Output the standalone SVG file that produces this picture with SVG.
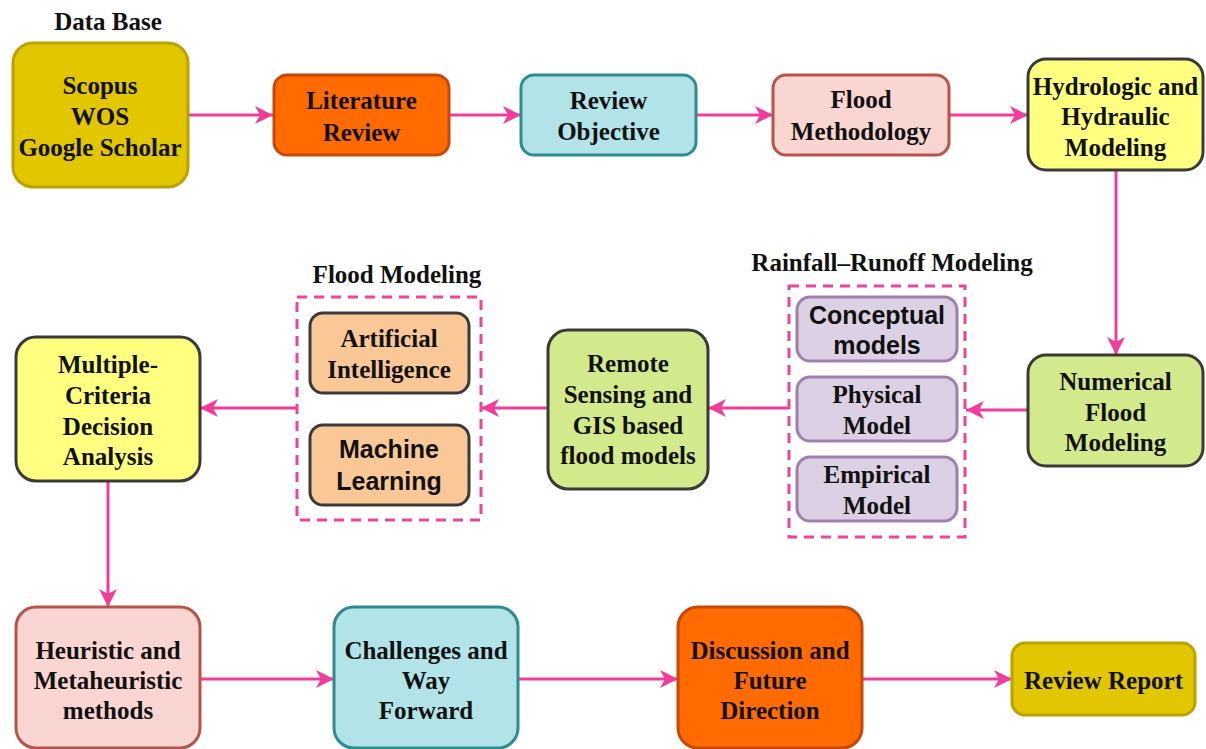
<svg xmlns="http://www.w3.org/2000/svg" width="1206" height="749" viewBox="0 0 1206 749">
<style>
.box{stroke-width:3}
.gold{fill:#E1C600;stroke:#BBA200}
.orange{fill:#FF6B00;stroke:#C6480A}
.cyan{fill:#B2E3E8;stroke:#2E8B8E}
.pink{fill:#F9D6D2;stroke:#B5544A}
.yellow{fill:#FFFF80;stroke:#3A3A3A}
.green{fill:#D3EA8C;stroke:#3A3A3A}
.lav{fill:#DCD0E4;stroke:#9E7FAE}
.peach{fill:#FAC896;stroke:#3A3A3A}
.dash{fill:none;stroke:#EB4595;stroke-width:3;stroke-dasharray:10,7}
text{font-family:"Liberation Serif","Times New Roman",serif;font-weight:bold;font-size:25px;fill:#111;text-anchor:middle}
text.sans{font-family:"Liberation Sans",Arial,sans-serif}
.conn{fill:none;stroke:#F03C9A;stroke-width:3}
</style>
<defs>
<marker id="arr" markerUnits="userSpaceOnUse" markerWidth="20" markerHeight="20" viewBox="0 0 20 20" refX="19" refY="10" orient="auto">
<path d="M1,1 L19,10 L1,19 L6,10 Z" fill="#F03C9A"/>
</marker>
</defs>

<g id="connectors">
<line class="conn" x1="188" y1="115" x2="273" y2="115" marker-end="url(#arr)"/>
<line class="conn" x1="450" y1="115" x2="521" y2="115" marker-end="url(#arr)"/>
<line class="conn" x1="697" y1="115" x2="773" y2="115" marker-end="url(#arr)"/>
<line class="conn" x1="950" y1="115" x2="1028" y2="115" marker-end="url(#arr)"/>
<line class="conn" x1="1116" y1="171" x2="1116" y2="355" marker-end="url(#arr)"/>
<line class="conn" x1="1028" y1="410" x2="966" y2="410" marker-end="url(#arr)"/>
<line class="conn" x1="789" y1="408" x2="708" y2="408" marker-end="url(#arr)"/>
<line class="conn" x1="548" y1="408" x2="481" y2="408" marker-end="url(#arr)"/>
<line class="conn" x1="297" y1="408" x2="200" y2="408" marker-end="url(#arr)"/>
<line class="conn" x1="108" y1="481" x2="108" y2="607" marker-end="url(#arr)"/>
<line class="conn" x1="200" y1="679" x2="334" y2="679" marker-end="url(#arr)"/>
<line class="conn" x1="518" y1="679" x2="678" y2="679" marker-end="url(#arr)"/>
<line class="conn" x1="862" y1="679" x2="1012" y2="679" marker-end="url(#arr)"/>
</g>

<g id="database">
<text x="108" y="30">Data Base</text>
<rect class="box gold" x="13" y="43" width="175" height="144" rx="20"/>
<text x="100" y="94">Scopus</text>
<text x="100" y="125">WOS</text>
<text x="100" y="156">Google Scholar</text>
</g>

<g id="literature-review">
<rect class="box orange" x="274" y="75" width="175" height="80" rx="13"/>
<text x="361.5" y="109">Literature</text>
<text x="361.5" y="141">Review</text>
</g>

<g id="review-objective">
<rect class="box cyan" x="521" y="75" width="175" height="80" rx="13"/>
<text x="608.5" y="109">Review</text>
<text x="608.5" y="140">Objective</text>
</g>

<g id="flood-methodology">
<rect class="box pink" x="773" y="75" width="176" height="80" rx="13"/>
<text x="861" y="108">Flood</text>
<text x="861" y="140">Methodology</text>
</g>

<g id="hydrologic">
<rect class="box yellow" x="1028" y="59" width="175" height="111" rx="18"/>
<text x="1115.5" y="95">Hydrologic and</text>
<text x="1115.5" y="125">Hydraulic</text>
<text x="1115.5" y="156">Modeling</text>
</g>

<g id="numerical">
<rect class="box green" x="1028" y="355" width="175" height="111" rx="18"/>
<text x="1115.5" y="390">Numerical</text>
<text x="1115.5" y="421">Flood</text>
<text x="1115.5" y="451">Modeling</text>
</g>

<g id="rainfall-runoff">
<text x="892" y="271">Rainfall–Runoff Modeling</text>
<rect class="dash" x="789" y="286" width="176" height="251"/>
</g>

<g id="conceptual">
<rect class="box lav" x="797" y="297" width="160" height="64" rx="13"/>
<text class="sans" x="877" y="324">Conceptual</text>
<text class="sans" x="877" y="354">models</text>
</g>

<g id="physical">
<rect class="box lav" x="797" y="377" width="160" height="64" rx="13"/>
<text x="877" y="403">Physical</text>
<text x="877" y="434">Model</text>
</g>

<g id="empirical">
<rect class="box lav" x="797" y="457" width="160" height="64" rx="13"/>
<text x="877" y="483">Empirical</text>
<text x="877" y="514">Model</text>
</g>

<g id="remote-sensing">
<rect class="box green" x="548" y="330" width="160" height="159" rx="20"/>
<text x="628" y="372">Remote</text>
<text x="628" y="403">Sensing and</text>
<text x="628" y="434">GIS based</text>
<text x="628" y="464">flood models</text>
</g>

<g id="flood-modeling">
<text x="397" y="283">Flood Modeling</text>
<rect class="dash" x="297" y="297" width="184" height="223"/>
</g>

<g id="artificial-intelligence">
<rect class="box peach" x="310" y="313" width="159" height="80" rx="13"/>
<text x="389" y="347">Artificial</text>
<text x="389" y="378">Intelligence</text>
</g>

<g id="machine-learning">
<rect class="box peach" x="310" y="425" width="159" height="80" rx="13"/>
<text class="sans" x="389" y="458">Machine</text>
<text class="sans" x="389" y="490">Learning</text>
</g>

<g id="mcda">
<rect class="box yellow" x="16" y="337" width="184" height="144" rx="20"/>
<text x="108" y="373">Multiple-</text>
<text x="108" y="404">Criteria</text>
<text x="108" y="435">Decision</text>
<text x="108" y="465">Analysis</text>
</g>

<g id="heuristic">
<rect class="box pink" x="16" y="607" width="184" height="141" rx="20"/>
<text x="108" y="659">Heuristic and</text>
<text x="108" y="689">Metaheuristic</text>
<text x="108" y="719">methods</text>
</g>

<g id="challenges">
<rect class="box cyan" x="334" y="607" width="184" height="141" rx="20"/>
<text x="426" y="659">Challenges and</text>
<text x="426" y="689">Way</text>
<text x="426" y="719">Forward</text>
</g>

<g id="discussion">
<rect class="box orange" x="678" y="607" width="184" height="141" rx="20"/>
<text x="770" y="659">Discussion and</text>
<text x="770" y="689">Future</text>
<text x="770" y="719">Direction</text>
</g>

<g id="review-report">
<rect class="box gold" x="1012" y="643" width="183" height="72" rx="13"/>
<text x="1103.5" y="689">Review Report</text>
</g>
</svg>
